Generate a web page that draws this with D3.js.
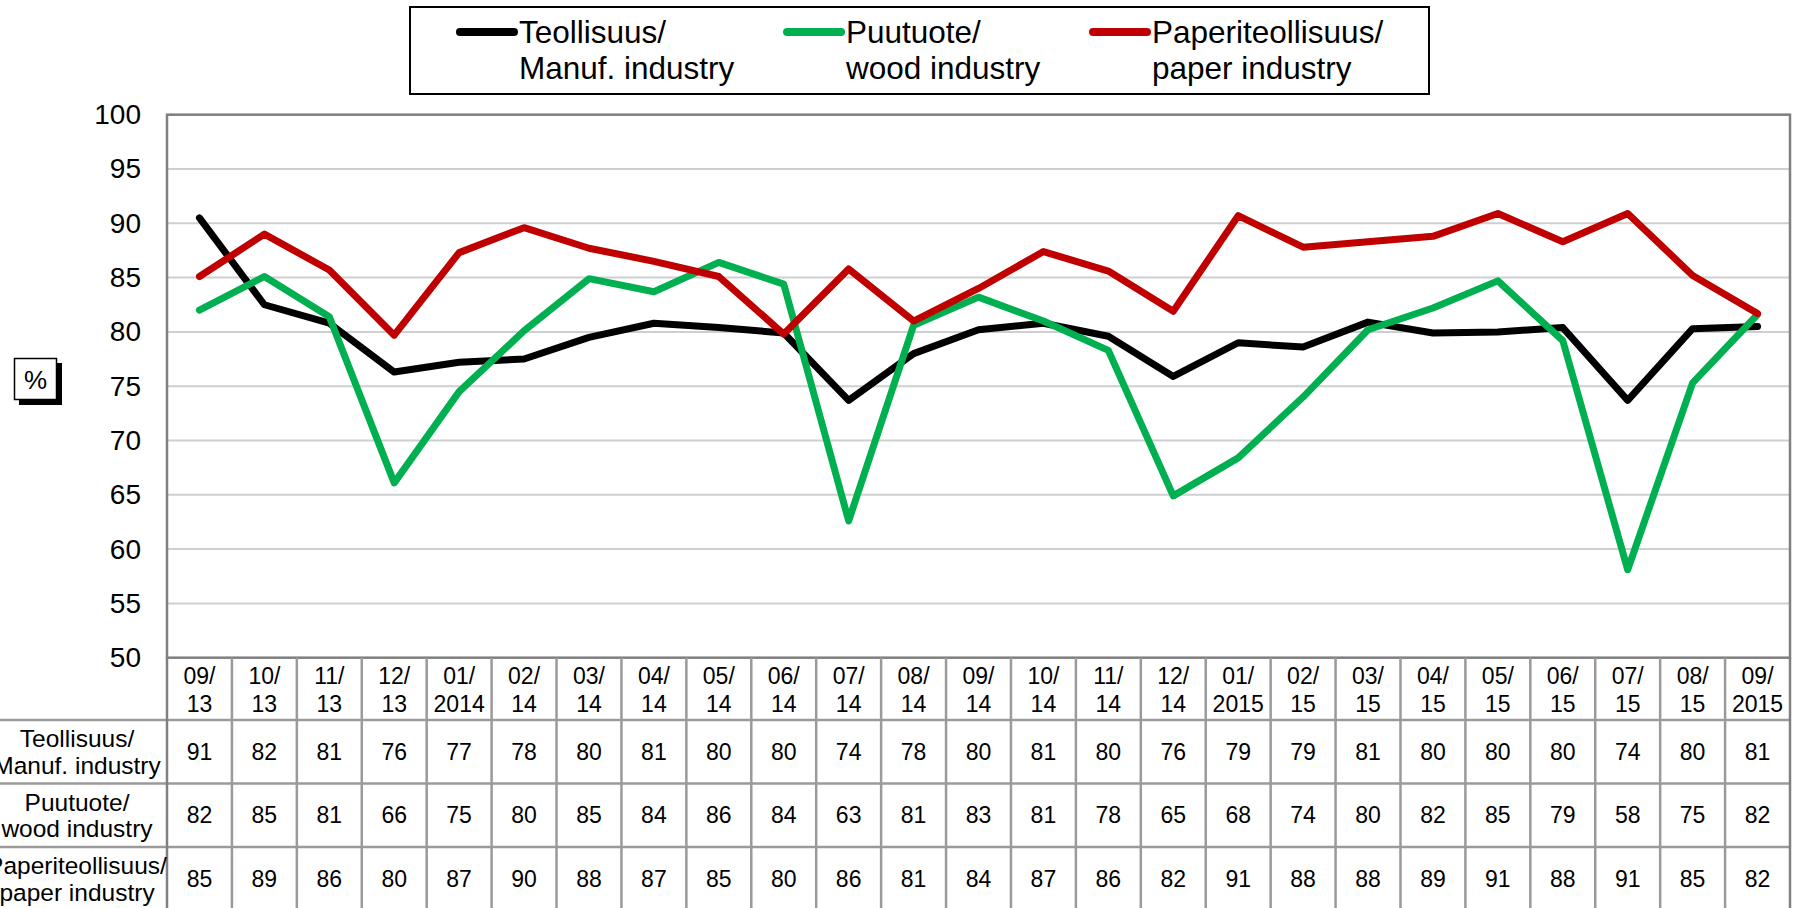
<!DOCTYPE html>
<html>
<head>
<meta charset="utf-8">
<script src="https://cdn.jsdelivr.net/npm/d3@7/dist/d3.min.js"></script>
<style>
  body { margin: 0; background: #fff; }
  text { font-family: "Liberation Sans", Arial, sans-serif; fill: #000; }
</style>
</head>
<body>
<svg id="chart" width="1798" height="908"></svg>
<script>
// DATA
var months = ["09/13", "10/13", "11/13", "12/13", "01/2014", "02/14", "03/14", "04/14", "05/14",
  "06/14", "07/14", "08/14", "09/14", "10/14", "11/14", "12/14", "01/2015", "02/15", "03/15",
  "04/15", "05/15", "06/15", "07/15", "08/15", "09/2015"];

// line values
var manuf = [90.5, 82.5, 80.8, 76.3, 77.2, 77.5, 79.5, 80.8, 80.4, 79.9, 73.7, 78.0, 80.2,
  80.8, 79.6, 75.9, 79.0, 78.6, 80.9, 79.9, 80.0, 80.4, 73.7, 80.3, 80.5];
var wood = [82.0, 85.1, 81.4, 66.1, 74.5, 80.1, 84.9, 83.7, 86.4, 84.4, 62.6, 80.6, 83.2,
  81.0, 78.3, 64.9, 68.4, 74.0, 80.2, 82.2, 84.7, 79.2, 58.1, 75.3, 81.6];
var paper = [85.1, 89.0, 85.7, 79.7, 87.3, 89.6, 87.7, 86.5, 85.1, 79.8, 85.8, 81.0, 84.0,
  87.4, 85.6, 81.9, 90.7, 87.8, 88.3, 88.8, 90.9, 88.3, 90.9, 85.2, 81.7];

// values as printed in the data table
var manufTable = [91, 82, 81, 76, 77, 78, 80, 81, 80, 80, 74, 78, 80, 81, 80, 76, 79, 79, 81, 80, 80, 80, 74, 80, 81];
var woodTable = [82, 85, 81, 66, 75, 80, 85, 84, 86, 84, 63, 81, 83, 81, 78, 65, 68, 74, 80, 82, 85, 79, 58, 75, 82];
var paperTable = [85, 89, 86, 80, 87, 90, 88, 87, 85, 80, 86, 81, 84, 87, 86, 82, 91, 88, 88, 89, 91, 88, 91, 85, 82];

var seriesNames = [["Teollisuus/", "Manuf. industry"], ["Puutuote/", "wood industry"], ["Paperiteollisuus/", "paper industry"]];
var seriesColors = ["#000000", "#00b050", "#c00000"];
var yTicks = [50, 55, 60, 65, 70, 75, 80, 85, 90, 95, 100];

var series = [
  {name: seriesNames[0], color: seriesColors[0], values: manuf, table: manufTable},
  {name: seriesNames[1], color: seriesColors[1], values: wood, table: woodTable},
  {name: seriesNames[2], color: seriesColors[2], values: paper, table: paperTable}
];

var svg = d3.select("#chart");

var plotLeft = 167, plotRight = 1790, plotTop = 114.7, plotBottom = 657.7;
var headerBottom = 720, rowH = 63.5;

var x = d3.scaleBand().domain(months).range([plotLeft, plotRight]);
var y = d3.scaleLinear().domain([50, 100]).range([plotBottom, plotTop]);

// GRID
svg.append("g").selectAll("line")
  .data(yTicks)
  .enter().append("line")
  .attr("x1", plotLeft).attr("x2", plotRight)
  .attr("y1", function(d) { return y(d); })
  .attr("y2", function(d) { return y(d); })
  .attr("stroke", "#cfcfcf")
  .attr("stroke-width", 2);

// Y AXIS
var yAxis = d3.axisLeft(y).tickValues(yTicks).tickSize(0).tickPadding(26);
var gy = svg.append("g").attr("transform", "translate(" + plotLeft + ",0)").call(yAxis);
gy.select(".domain").remove();
gy.selectAll("text")
  .style("font-size", "28px")
  .style("font-family", "\"Liberation Sans\", Arial, sans-serif")
  .attr("fill", "#000");

// plot border
svg.append("rect")
  .attr("x", plotLeft).attr("y", plotTop)
  .attr("width", plotRight - plotLeft).attr("height", plotBottom - plotTop)
  .attr("fill", "none")
  .attr("stroke", "#808080")
  .attr("stroke-width", 2.5);

// "%" label box
svg.append("rect").attr("x", 19).attr("y", 363).attr("width", 43).attr("height", 42).attr("fill", "#000");
svg.append("rect").attr("x", 14.5).attr("y", 358.5).attr("width", 42).attr("height", 41)
  .attr("fill", "#fff").attr("stroke", "#000").attr("stroke-width", 1.5);
svg.append("text").attr("x", 35.5).attr("y", 389).attr("text-anchor", "middle")
  .style("font-size", "26px").text("%");

// LINES
var line = d3.line()
  .x(function(d, i) { return x(months[i]) + x.bandwidth() / 2; })
  .y(function(d) { return y(d); });

svg.append("g").selectAll("path")
  .data(series)
  .enter().append("path")
  .attr("d", function(d) { return line(d.values); })
  .attr("fill", "none")
  .attr("stroke", function(d) { return d.color; })
  .attr("stroke-width", 7)
  .attr("stroke-linejoin", "round")
  .attr("stroke-linecap", "round");

// TABLE
var table = svg.append("g");
var rowTops = series.map(function(d, i) { return headerBottom + i * rowH; });

// horizontal rules
table.selectAll(".hrule")
  .data([headerBottom, headerBottom + rowH, headerBottom + 2 * rowH])
  .enter().append("line")
  .attr("x1", 0).attr("x2", plotRight)
  .attr("y1", function(d) { return d; }).attr("y2", function(d) { return d; })
  .attr("stroke", "#9a9a9a").attr("stroke-width", 2.5);

// vertical rules
table.selectAll(".vrule")
  .data(months.concat(["end"]))
  .enter().append("line")
  .attr("x1", function(d, i) { return plotLeft + i * x.bandwidth(); })
  .attr("x2", function(d, i) { return plotLeft + i * x.bandwidth(); })
  .attr("y1", plotBottom).attr("y2", 908)
  .attr("stroke", function(d, i) { return (i == 0 || i == months.length) ? "#808080" : "#9a9a9a"; })
  .attr("stroke-width", 2.5);

// header labels
var head = table.selectAll(".head")
  .data(months)
  .enter().append("text")
  .attr("text-anchor", "middle")
  .style("font-size", "23px");
head.append("tspan")
  .attr("x", function(d) { return x(d) + x.bandwidth() / 2; })
  .attr("y", 684)
  .text(function(d) { return d.split("/")[0] + "/"; });
head.append("tspan")
  .attr("x", function(d) { return x(d) + x.bandwidth() / 2; })
  .attr("y", 712)
  .text(function(d) { return d.split("/")[1]; });

// row labels and cells
series.forEach(function(s, r) {
  var mid = rowTops[r] + rowH / 2;
  var lab = table.append("text")
    .attr("text-anchor", "middle")
    .style("font-size", "24.5px");
  lab.append("tspan").attr("x", 77).attr("y", mid - 4.5).text(s.name[0]);
  lab.append("tspan").attr("x", 77).attr("y", mid + 22).text(s.name[1]);

  table.selectAll(".cell" + r)
    .data(s.table)
    .enter().append("text")
    .attr("x", function(d, i) { return x(months[i]) + x.bandwidth() / 2; })
    .attr("y", mid + 8)
    .attr("text-anchor", "middle")
    .style("font-size", "23px")
    .text(function(d) { return d; });
});

// LEGEND
var legend = svg.append("g");
legend.append("rect")
  .attr("x", 410).attr("y", 7)
  .attr("width", 1019).attr("height", 87)
  .attr("fill", "#fff")
  .attr("stroke", "#000")
  .attr("stroke-width", 2);

var legendX = [460, 787, 1093];
var item = legend.selectAll(".item")
  .data(series)
  .enter().append("g")
  .attr("transform", function(d, i) { return "translate(" + legendX[i] + ",0)"; });
item.append("line")
  .attr("x1", 0).attr("x2", 54)
  .attr("y1", 32).attr("y2", 32)
  .attr("stroke", function(d) { return d.color; })
  .attr("stroke-width", 8)
  .attr("stroke-linecap", "round");
var ltext = item.append("text").style("font-size", "31.5px");
ltext.append("tspan").attr("x", 59).attr("y", 43).text(function(d) { return d.name[0]; });
ltext.append("tspan").attr("x", 59).attr("y", 79).text(function(d) { return d.name[1]; });
</script>
</body>
</html>
